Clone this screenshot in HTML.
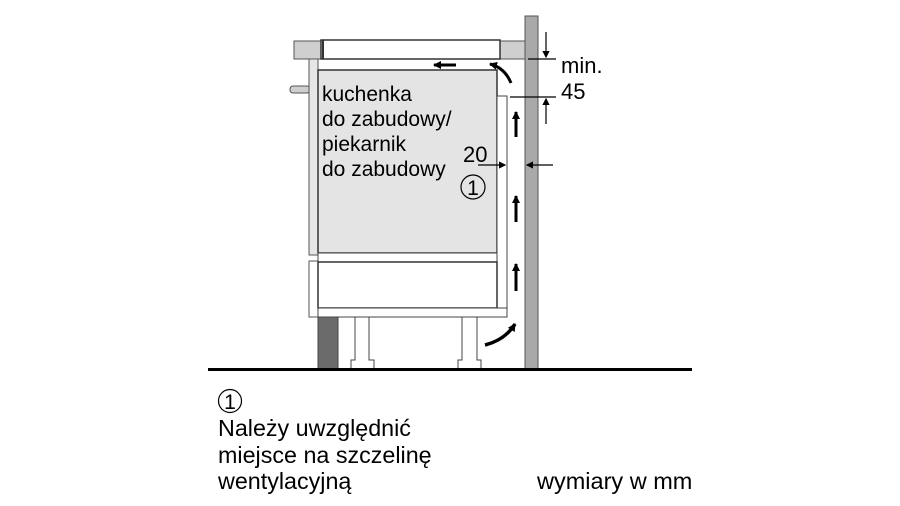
<!DOCTYPE html>
<html><head><meta charset="utf-8"><style>
html,body{margin:0;padding:0;background:#fff;}
svg{display:block;}
text{font-family:"Liberation Sans",Arial,sans-serif;fill:#000;}
</style></head><body>
<svg width="900" height="506" viewBox="0 0 900 506" xmlns="http://www.w3.org/2000/svg">
<defs>
<marker id="ah" markerWidth="6" markerHeight="6" refX="5" refY="3" orient="auto" markerUnits="strokeWidth">
<path d="M0,0 L6,3 L0,6 z" fill="#000"/></marker>
<marker id="at" markerWidth="8" markerHeight="8" refX="7" refY="4" orient="auto" markerUnits="userSpaceOnUse">
<path d="M0,0 L8,4 L0,8 z" fill="#000"/></marker>
</defs>
<rect x="525" y="16" width="13" height="353" fill="#a9a9a9" stroke="#555" stroke-width="1"/>
<rect x="294" y="41" width="29" height="18" fill="#cfcfcf" stroke="#555"/>
<rect x="498" y="41" width="27" height="18" fill="#cfcfcf" stroke="#555"/>
<rect x="321" y="40" width="179" height="19" fill="#fff" stroke="#333" stroke-width="1.5"/>
<line x1="323" y1="40" x2="323" y2="59" stroke="#333" stroke-width="2"/>
<rect x="290" y="86" width="20" height="7" rx="3" fill="#cfcfcf" stroke="#555"/>
<rect x="309" y="59" width="9" height="196" fill="#e6e6e6" stroke="#555"/>
<rect x="309" y="261" width="9" height="56" fill="#fff" stroke="#555"/>
<rect x="318" y="70" width="179" height="183" fill="#e4e4e4" stroke="#333" stroke-width="1.5"/>
<rect x="497" y="96" width="10" height="221" fill="#fff" stroke="#444"/>
<rect x="318" y="253" width="179" height="9" fill="#fff" stroke="#444"/>
<rect x="318" y="262" width="179" height="46" fill="#fff" stroke="#333" stroke-width="1.5"/>
<rect x="318" y="308" width="189" height="9" fill="#fff" stroke="#444"/>
<rect x="318" y="317" width="20" height="52" fill="#6b6b6b" stroke="#444"/>
<path d="M355,317 V360 H351 V369 H374 V360 H369 V317 Z" fill="#fff" stroke="#444"/>
<path d="M462,317 V360 H458 V369 H481 V360 H477 V317 Z" fill="#fff" stroke="#444"/>
<rect x="208" y="368" width="484" height="3" fill="#000"/>
<line x1="516" y1="137" x2="516" y2="112" stroke="#000" stroke-width="3" marker-end="url(#at)"/>
<line x1="516" y1="222" x2="516" y2="196" stroke="#000" stroke-width="3" marker-end="url(#at)"/>
<line x1="516" y1="291" x2="516" y2="264" stroke="#000" stroke-width="3" marker-end="url(#at)"/>
<path d="M485,345 Q505,340 515,324" fill="none" stroke="#000" stroke-width="3.5" marker-end="url(#at)"/>
<path d="M511,83 Q505,68 490,64" fill="none" stroke="#000" stroke-width="3" marker-end="url(#at)"/>
<line x1="456" y1="65" x2="434" y2="65" stroke="#000" stroke-width="3" marker-end="url(#at)"/>
<line x1="528" y1="59" x2="556" y2="59" stroke="#000" stroke-width="1.2"/>
<line x1="510" y1="97" x2="556" y2="97" stroke="#000" stroke-width="1.2"/>
<line x1="546" y1="32" x2="546" y2="57" stroke="#000" stroke-width="1.2" marker-end="url(#ah)"/>
<line x1="546" y1="124" x2="546" y2="99" stroke="#000" stroke-width="1.2" marker-end="url(#ah)"/>
<line x1="478" y1="165" x2="505" y2="165" stroke="#000" stroke-width="1.2" marker-end="url(#ah)"/>
<line x1="553" y1="165" x2="527" y2="165" stroke="#000" stroke-width="1.2" marker-end="url(#ah)"/>
<text x="561" y="73" font-size="22">min.</text>
<text x="561" y="99" font-size="22">45</text>
<text x="463" y="162" font-size="22">20</text>
<circle cx="473" cy="187" r="12" fill="none" stroke="#000" stroke-width="1.2"/>
<text x="473" y="195" font-size="21" text-anchor="middle">1</text>
<text font-size="21"><tspan x="322" y="101">kuchenka</tspan><tspan x="322" y="126">do zabudowy/</tspan><tspan x="322" y="151">piekarnik</tspan><tspan x="322" y="176">do zabudowy</tspan></text>
<circle cx="230" cy="401" r="11.5" fill="none" stroke="#000" stroke-width="1.2"/>
<text x="230" y="409" font-size="21" text-anchor="middle">1</text>
<text font-size="23.3"><tspan x="218" y="436">Należy uwzględnić</tspan><tspan x="218" y="463">miejsce na szczelinę</tspan><tspan x="218" y="489">wentylacyjną</tspan></text>
<text x="537" y="489" font-size="23.5">wymiary w mm</text>
</svg>
</body></html>
